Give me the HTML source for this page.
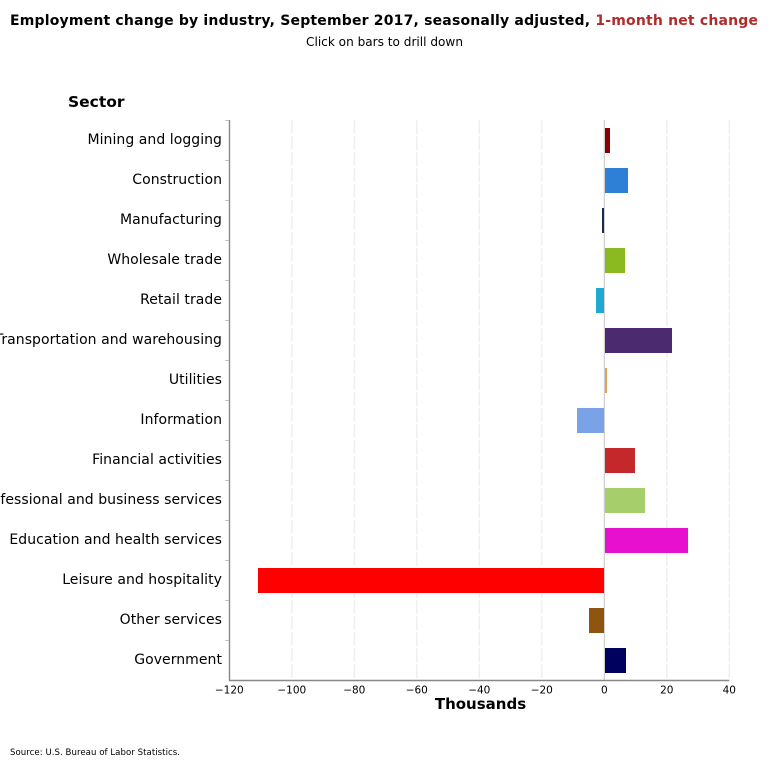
<!DOCTYPE html>
<html>
<head>
<meta charset="utf-8">
<title>Employment change by industry</title>
<style>
html,body{margin:0;padding:0;background:#fff;width:770px;height:760px;overflow:hidden}
svg{display:block}
text{font-family:"DejaVu Sans","Liberation Sans",sans-serif;fill:#000}
.bar{cursor:pointer}
</style>
</head>
<body>
<svg id="chart" xmlns="http://www.w3.org/2000/svg" width="770" height="760" viewBox="0 0 770 760">
  <text x="10" y="25" font-size="14" font-weight="bold" textLength="748" lengthAdjust="spacing">Employment change by industry, September 2017, seasonally adjusted, <tspan style="fill:#b22b2b">1-month net change</tspan></text>
  <text x="384.5" y="46" font-size="12.1" text-anchor="middle">Click on bars to drill down</text>
  <text x="68" y="107" font-size="15.5" font-weight="bold">Sector</text>
  <g id="grid"></g>
  <g id="ticks"></g>
  <g id="bars"></g>
  <g id="labels"></g>
  <g id="xlabels"></g>
  <text x="480.5" y="709" font-size="15" font-weight="bold" text-anchor="middle">Thousands</text>
  <text x="10" y="755" font-size="8.6" textLength="170" lengthAdjust="spacing">Source: U.S. Bureau of Labor Statistics.</text>
</svg>
<script>
var categories = ["Mining and logging","Construction","Manufacturing","Wholesale trade","Retail trade","Transportation and warehousing","Utilities","Information","Financial activities","Professional and business services","Education and health services","Leisure and hospitality","Other services","Government"];
var values = [1.8,7.7,-0.7,6.6,-2.6,21.6,0.8,-8.7,9.8,13,26.7,-110.8,-4.9,6.9];
var barColors = ["#8b0000","#2e7fd6","#1a2a4f","#8aba1f","#1fa9d1","#4b2a70","#d9a25f","#79a3e6","#c4282b","#a6cf6b","#e810cf","#ff0000","#8f5510","#00005f"];
var xTicks = [-120,-100,-80,-60,-40,-20,0,20,40];

var NS = "http://www.w3.org/2000/svg";
var plotLeft = 229.3, plotRight = 729.3, plotTop = 120, plotBottom = 680;
var xMin = xTicks[0], xMax = xTicks[xTicks.length - 1];
function xScale(v){ return plotLeft + (v - xMin) * (plotRight - plotLeft) / (xMax - xMin); }
function bandTop(i){ return plotTop + i * (plotBottom - plotTop) / categories.length; }
function make(tag, attrs, parent){
  var el = document.createElementNS(NS, tag);
  for (var k in attrs) el.setAttribute(k, attrs[k]);
  parent.appendChild(el);
  return el;
}
var grid = document.getElementById("grid");
var ticks = document.getElementById("ticks");
var bars = document.getElementById("bars");
var labels = document.getElementById("labels");
var xlabels = document.getElementById("xlabels");

xTicks.forEach(function(t){
  var x = xScale(t);
  if (t !== xMin) {
    var g = make("line", {x1:x, x2:x, y1:plotTop, y2:plotBottom, stroke: t === 0 ? "#c4c4c4" : "#efefef", "stroke-width": t === 0 ? 1 : 1.5, "stroke-dasharray": t === 0 ? "none" : "14 2"}, grid);
    
    
  }
  var lab = make("text", {x:x, y:693.5, "font-size":10.5, "text-anchor":"middle"}, xlabels);
  lab.textContent = String(t).replace("-", "\u2212");
  
  
});

categories.forEach(function(name, i){
  var top = bandTop(i);
  var tick = make("line", {x1:225, x2:plotLeft, y1:top + 0.5, y2:top + 0.5, stroke:"#c8c8c8", "stroke-width":1}, ticks);
  
  

  var v = values[i], zero = xScale(0), end = xScale(v);
  var x0 = v >= 0 ? Math.ceil(zero) : Math.round(end);
  var x1 = v >= 0 ? Math.round(end) : Math.floor(zero);
  var r = make("rect", {x:x0, y:top + 8, width:Math.max(x1 - x0, 0), height:25, fill:barColors[i]}, bars);
  r.setAttribute('class', 'bar');
  
  

  var t = make("text", {x:222, y:top + 24, "font-size":14, "text-anchor":"end", "letter-spacing":"0.05"}, labels);
  t.textContent = name;
  
  
});

var svgEl = document.getElementById("chart");
var yAxis = make("line", {x1:229.5, x2:229.5, y1:plotTop, y2:plotBottom + 1, stroke:"#888888", "stroke-width":1.4}, svgEl);


var xAxis = make("line", {x1:229, x2:plotRight, y1:plotBottom + 0.5, y2:plotBottom + 0.5, stroke:"#888888", "stroke-width":1.4}, svgEl);


</script>
</body>
</html>
